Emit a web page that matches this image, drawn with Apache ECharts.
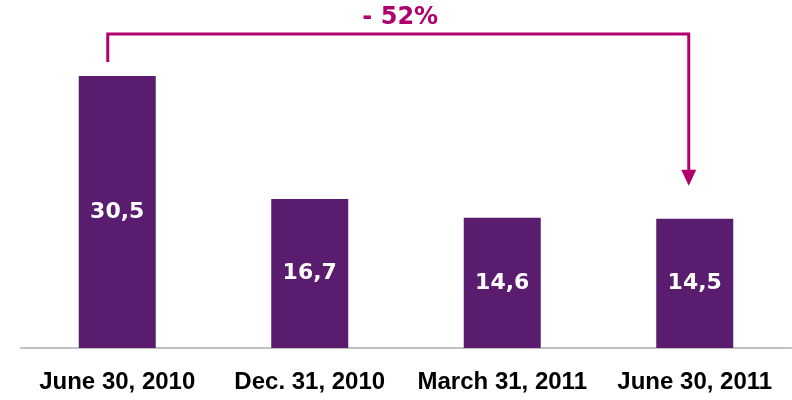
<!DOCTYPE html>
<html>
<head>
<meta charset="utf-8">
<script src="https://cdn.jsdelivr.net/npm/echarts@6/dist/echarts.min.js"></script>
<style>
  html, body { margin: 0; padding: 0; background: #fff; }
  #chart { width: 792px; height: 400px; }
</style>
</head>
<body>
<div id="chart"></div>
<script>
var categories = ['June 30, 2010', 'Dec. 31, 2010', 'March 31, 2011', 'June 30, 2011'];
var values = [30.5, 16.7, 14.6, 14.5];
var changeLabel = '- 52%';

var barColor = '#5a1c6e';
var accent = '#b0006e';

var chart = echarts.init(document.getElementById('chart'));

chart.setOption({
  animation: false,
  grid: { left: 21, right: 1, top: 9, bottom: 52 },
  xAxis: {
    type: 'category',
    data: categories,
    axisTick: { show: false },
    axisLine: { lineStyle: { color: '#c0c0c0', width: 2 } },
    axisLabel: {
      interval: 0,
      color: '#000',
      fontFamily: 'Liberation Sans, Arial, sans-serif',
      fontWeight: 'bold',
      fontSize: 24,
      margin: 22
    }
  },
  yAxis: {
    type: 'value',
    min: 0,
    max: 38,
    show: false
  },
  series: [{
    type: 'bar',
    data: values,
    barWidth: '40%',
    itemStyle: { color: barColor },
    label: {
      show: true,
      position: 'inside',
      color: '#fff',
      fontFamily: 'DejaVu Sans, Verdana, sans-serif',
      fontWeight: 'bold',
      fontSize: 22,
      formatter: function (p) { return String(p.value).replace('.', ','); }
    }
  }]
});

// bracket arrow from first bar to last bar
var first = chart.convertToPixel({ gridIndex: 0 }, [0, values[0]]);
var last = chart.convertToPixel({ gridIndex: 0 }, [values.length - 1, values[values.length - 1]]);
var x1 = first[0] - 9.5, x2 = last[0] - 6;
var yTop = first[1] - 42;
var yStart = first[1] - 14;
var yTip = last[1] - 33;

chart.setOption({
  graphic: [
    {
      type: 'polyline',
      shape: { points: [[x1, yStart], [x1, yTop], [x2, yTop], [x2, yTip - 12]] },
      style: { stroke: accent, lineWidth: 3, fill: null }
    },
    {
      type: 'polygon',
      shape: { points: [[x2 - 7.5, yTip - 16], [x2 + 7.5, yTip - 16], [x2, yTip]] },
      style: { fill: accent }
    },
    {
      type: 'text',
      x: (x1 + x2) / 2 + 2,
      y: yTop - 16,
      style: {
        text: changeLabel,
        fill: accent,
        font: 'bold 24px "DejaVu Sans", Verdana, sans-serif',
        textAlign: 'center',
        textVerticalAlign: 'middle'
      }
    }
  ]
});
</script>
</body>
</html>
